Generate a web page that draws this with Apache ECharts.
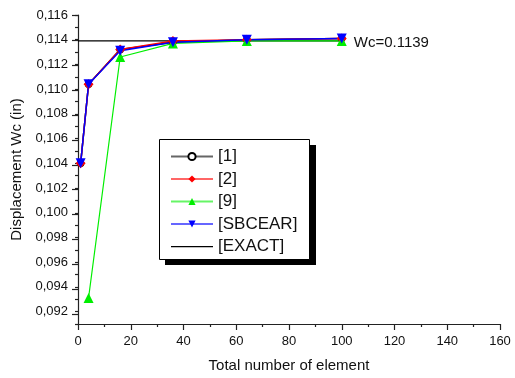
<!DOCTYPE html>
<html>
<head>
<meta charset="utf-8">
<script src="https://cdn.jsdelivr.net/npm/echarts@6/dist/echarts.min.js"></script>
<style>html,body{margin:0;padding:0;background:#fff}#c{width:515px;height:378px}</style>
</head>
<body>
<div id="c"></div>
<script>
const xValues = [1, 4, 16, 36, 64, 100];
const ref1 = [0.1040, 0.1104, 0.1132, 0.1138, 0.1140, 0.1141];
const ref2 = [0.1040, 0.1104, 0.1132, 0.1139, 0.1140, 0.1141];
const ref9X = [4, 16, 36, 64, 100];
const ref9 = [0.0931, 0.1126, 0.1137, 0.1139, 0.1139];
const sbcear = [0.1040, 0.1104, 0.1131, 0.1138, 0.1140, 0.1141];
const exactX = [0, 100];
const exactValue = 0.1139;
const seriesNames = ['[1]', '[2]', '[9]', '[SBCEAR]', '[EXACT]'];
const xTickValues = [0, 20, 40, 60, 80, 100, 120, 140, 160];

const FONT = '"Liberation Sans", Arial, sans-serif';
const pair = (xs, ys) => xs.map((x, i) => [x, ys[i]]);
const axisCol = '#222';

const chart = echarts.init(document.getElementById('c'), null, {renderer: 'canvas'});
chart.setOption({
  animation: false,
  backgroundColor: '#fff',
  grid: [
    {left: 78, right: 15, top: 15, bottom: 51},
    {left: 78, right: 15, top: 15, bottom: 63.48}
  ],
  graphic: [
    {type: 'rect', z: 10, shape: {x: 165, y: 145, width: 151, height: 120}, style: {fill: '#000'}},
    {type: 'rect', z: 11, shape: {x: 159.5, y: 139.5, width: 150, height: 120}, style: {fill: '#fff', stroke: '#000', lineWidth: 1}}
  ],
  xAxis: [{
    type: 'value', gridIndex: 0, min: xTickValues[0], max: xTickValues[xTickValues.length - 1], interval: 20,
    name: 'Total number of element', nameLocation: 'middle', nameGap: 34,
    nameTextStyle: {fontFamily: FONT, fontSize: 15, color: '#111'},
    axisLine: {lineStyle: {color: axisCol, width: 1.2}},
    axisTick: {length: 6, lineStyle: {color: axisCol, width: 1.2}},
    minorTick: {show: true, splitNumber: 2, length: 3, lineStyle: {color: axisCol, width: 1.2}},
    axisLabel: {fontFamily: FONT, fontSize: 13, color: '#111', margin: 11},
    splitLine: {show: false}
  }, {
    type: 'value', gridIndex: 1, min: 0, max: 160, show: false
  }],
  yAxis: [{
    type: 'value', gridIndex: 0, min: 0.091, max: 0.116, interval: 0.001,
    name: 'Displacement Wc (in)', nameLocation: 'middle', nameGap: 45,
    nameTextStyle: {fontFamily: FONT, fontSize: 15, color: '#111'},
    axisLine: {show: true, lineStyle: {color: axisCol, width: 1.2}},
    axisTick: {show: true, length: 3, lineStyle: {color: axisCol, width: 1.2}},
    axisLabel: {
      fontFamily: FONT, fontSize: 13, color: '#111', margin: 10,
      formatter: v => (Math.round(v * 1000) % 2 === 0 ? v.toFixed(3).replace('.', ',') : '')
    },
    splitLine: {show: false}
  }, {
    type: 'value', gridIndex: 1, min: 0.092, max: 0.116, interval: 0.002,
    axisLine: {show: false},
    axisTick: {show: true, length: 6, lineStyle: {color: axisCol, width: 1.2}},
    axisLabel: {show: false},
    splitLine: {show: false}
  }],
  legend: {
    z: 12,
    orient: 'vertical', left: 159, top: 139,
    padding: [9, 13, 6, 11], itemGap: 5.5, itemWidth: 42, itemHeight: 9,
    lineStyle: {opacity: 0.6},
    textStyle: {fontFamily: FONT, fontSize: 17, color: '#111'},
    data: [
      seriesNames[0], seriesNames[1], seriesNames[2], seriesNames[3],
      {name: seriesNames[4], icon: 'path://M0,0 M0,4 H42 V5.2 H0 Z M42,9'}
    ]
  },
  series: [
    {
      name: seriesNames[0], type: 'line', data: pair(xValues, ref1),
      symbol: 'circle', symbolSize: 7,
      lineStyle: {color: '#000', width: 1.5},
      itemStyle: {color: '#fff', borderColor: '#000', borderWidth: 1}
    },
    {
      name: seriesNames[1], type: 'line', data: pair(xValues, ref2),
      symbol: 'diamond', symbolSize: 10,
      lineStyle: {color: '#ff0000', width: 1.5},
      itemStyle: {color: '#ff0000'}
    },
    {
      name: seriesNames[2], type: 'line', data: pair(ref9X, ref9),
      symbol: 'triangle', symbolSize: 10,
      lineStyle: {color: '#00ee00', width: 1.2},
      itemStyle: {color: '#00ee00'}
    },
    {
      name: seriesNames[3], type: 'line', data: pair(xValues, sbcear),
      symbol: 'triangle', symbolRotate: 180, symbolSize: 10,
      lineStyle: {color: '#0000ff', width: 1.5},
      itemStyle: {color: '#0000ff'}
    },
    {
      name: seriesNames[4], type: 'line', data: pair(exactX, [exactValue, exactValue]),
      symbol: 'none', z: 1,
      lineStyle: {color: '#000', width: 1.3},
      itemStyle: {color: '#000'},
      endLabel: {
        show: true, distance: 12, formatter: () => 'Wc=' + exactValue,
        fontFamily: FONT, fontSize: 15, color: '#111', offset: [0, 2]
      }
    }
  ]
});
</script>
</body>
</html>
